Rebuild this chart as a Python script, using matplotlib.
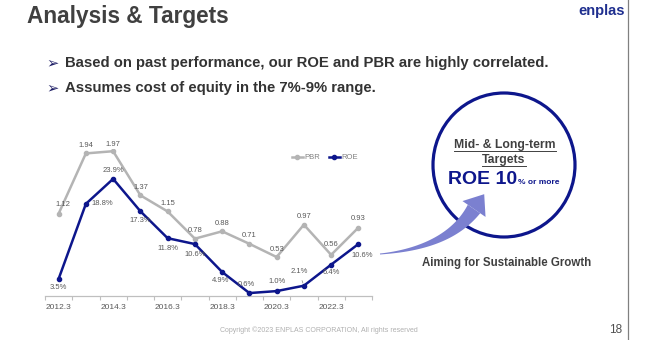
import matplotlib.pyplot as plt
from matplotlib.patches import Ellipse, Polygon
import numpy as np

# fiscal years (March year-end)
years = ["2012.3", "2013.3", "2014.3", "2015.3", "2016.3", "2017.3",
         "2018.3", "2019.3", "2020.3", "2021.3", "2022.3", "2023.3"]
pbr = [1.12, 1.94, 1.97, 1.37, 1.15, 0.78, 0.88, 0.71, 0.53, 0.97, 0.56, 0.93]
roe = [3.5, 18.8, 23.9, 17.3, 11.8, 10.6, 4.9, 0.6, 1.0, 2.1, 6.4, 10.6]

# label offsets in pixels (dx, dy up)
pbr_off = [(4, 9), (0, 8), (0, 7), (1, 8), (0, 8), (0, 8),
           (0, 8), (0, 8), (0, 8), (0, 8), (0, 10), (0, 9)]
roe_off = [(0, -9), (16, 0), (0, 8), (0, -9), (0, -10), (0, -10),
           (-2, -9), (-3, 9), (0, 10), (-5, 14), (0, -8), (4, -11)]

NAVY = "#0d168c"
GRAY = "#b4b4b4"
TXT = "#404040"
W, H = 646, 340

plt.rcParams["font.family"] = ["Liberation Sans", "DejaVu Sans"]
fig = plt.figure(figsize=(W / 100, H / 100), dpi=100)

# slide layer in pixel coordinates
deco = fig.add_axes([0, 0, 1, 1])
deco.set_xlim(0, W)
deco.set_ylim(H, 0)
deco.axis("off")

deco.text(27, 17, "Analysis & Targets", fontsize=16.3, fontweight="bold",
          color=TXT, va="center", ha="left")
deco.text(625, 11, "enplas", fontsize=10.5, fontweight="bold", color="#1f2f8f",
          va="center", ha="right")
deco.plot([628, 628], [0, H], color="#808080", lw=0.9)

bullets = ["Based on past performance, our ROE and PBR are highly correlated.",
           "Assumes cost of equity in the 7%-9% range."]
for i, b in enumerate(bullets):
    y = 63 + 25 * i
    deco.text(46, y, "\u27a2", fontsize=10.5, color="#1e1e66", va="center",
              family=["DejaVu Sans"])
    deco.text(65, y, b, fontsize=10.75, fontweight="bold", color="#333333",
              va="center", ha="left")

deco.text(319, 330, "Copyright \u00a92023 ENPLAS CORPORATION, All rights reserved",
          fontsize=5, color="#b0b0b0", ha="center", va="center")
deco.text(622, 330, "18", fontsize=8.5, color="#505050", ha="right", va="center")

# target circle
deco.add_patch(Ellipse((504, 165), 142, 144, fill=False, edgecolor=NAVY, lw=2.3))
t1 = deco.text(505, 145, "Mid- & Long-term", fontsize=8.8, fontweight="bold",
               color=TXT, ha="center", va="center")
t2 = deco.text(504, 160, "Targets", fontsize=8.8, fontweight="bold",
               color=TXT, ha="center", va="center")
t3 = deco.text(448, 180, "ROE 10", fontsize=14, fontweight="bold",
               color=NAVY, ha="left", va="center")
deco.text(422, 263, "Aiming for Sustainable Growth", fontsize=8.3,
          fontweight="bold", color=TXT, ha="left", va="center")

# growth arrow: tapered quadratic curve plus head
t = np.linspace(0, 1, 40)
p0, p1, p2 = np.array([380, 254]), np.array([448, 248]), np.array([474, 209])
curve = ((1 - t)[:, None] ** 2 * p0 + 2 * ((1 - t) * t)[:, None] * p1
         + (t ** 2)[:, None] * p2)
d = np.gradient(curve, axis=0)
nrm = np.stack([-d[:, 1], d[:, 0]], axis=1)
nrm /= np.linalg.norm(nrm, axis=1)[:, None]
half = (0.5 + 7 * t ** 1.3)[:, None]
outline = np.vstack([curve + nrm * half, (curve - nrm * half)[::-1]])
deco.add_patch(Polygon(outline, closed=True, color="#7b80d0", lw=0))
tang = d[-1] / np.linalg.norm(d[-1])
side = nrm[-1]
tip = p2 + tang * 18
deco.add_patch(Polygon([p2 + side * 14, tip, p2 - side * 14], closed=True,
                       color="#7b80d0", lw=0))

# chart
ax = fig.add_axes([45 / W, (H - 296) / H, 327 / W, 147 / H])
ax2 = ax.twinx()
x = np.arange(len(years))

ax2.plot(x, pbr, color=GRAY, lw=1.8, marker="o", ms=3, label="PBR", zorder=2)
ax.plot(x, roe, color=NAVY, lw=1.8, marker="o", ms=3, label="ROE", zorder=3)
ax.set_ylim(0, 30)
ax2.set_ylim(0, 2.0)
ax.set_xlim(-0.5, len(years) - 0.5)
ax.set_zorder(ax2.get_zorder() + 1)
ax.patch.set_visible(False)

for a in (ax, ax2):
    for s in ("top", "left", "right"):
        a.spines[s].set_visible(False)
    a.set_yticks([])
    a.spines["bottom"].set_color("#bfbfbf")

ax.set_xticks(np.arange(-0.5, len(years)))
ax.set_xticklabels([])
ax.tick_params(axis="x", which="major", length=3, color="#bfbfbf", width=0.8)
ax.set_xticks(x[::2], minor=True)
ax.set_xticklabels(years[::2], minor=True)
ax.tick_params(axis="x", which="minor", length=0, pad=6, labelsize=6,
               labelcolor="#595959")

k = 0.72
for i, v in enumerate(pbr):
    dx, dy = pbr_off[i]
    ax2.annotate(f"{v:.2f}", (x[i], v), xytext=(dx * k, dy * k),
                 textcoords="offset points", ha="center", va="center",
                 fontsize=5.5, color="#595959")
for i, v in enumerate(roe):
    dx, dy = roe_off[i]
    props = dict(arrowstyle="-", color="#808080", lw=0.5) if i == 9 else None
    ax.annotate(f"{v:.1f}%", (x[i], v), xytext=(dx * k, dy * k),
                textcoords="offset points", ha="center", va="center",
                fontsize=5.5, color="#595959", arrowprops=props)

h1, l1 = ax2.get_legend_handles_labels()
h2, l2 = ax.get_legend_handles_labels()
leg = ax.legend(h1 + h2, l1 + l2, loc="center", bbox_to_anchor=(0.856, 0.94),
                ncol=2, frameon=False, fontsize=5.5, handlelength=1.4,
                handletextpad=0.2, columnspacing=1.2, labelcolor="#808080")

# underline the heading inside the circle and attach the small suffix
fig.canvas.draw()
inv = deco.transData.inverted()
for tt, yy in ((t1, 151), (t2, 166)):
    bb = tt.get_window_extent()
    (xa, _), (xb, _) = inv.transform([[bb.x0, bb.y0], [bb.x1, bb.y1]])
    deco.plot([xa, xb], [yy, yy], color=TXT, lw=0.7)
bb = t3.get_window_extent()
xe = inv.transform([[bb.x1, bb.y0]])[0][0]
deco.text(xe + 1, 183, "% or more", fontsize=6, fontweight="bold",
          color=NAVY, ha="left", va="center")

fig.savefig("out.png", dpi=100)
